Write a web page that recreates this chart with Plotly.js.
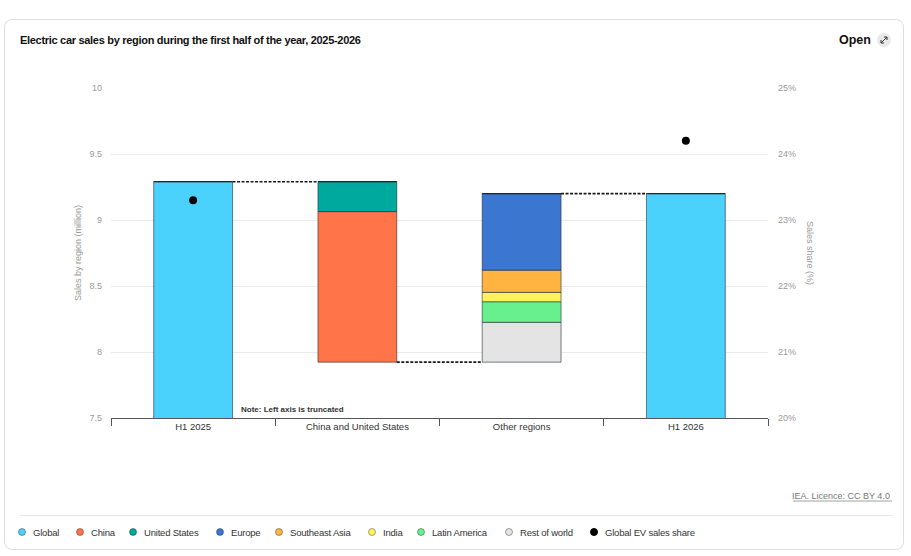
<!DOCTYPE html>
<html>
<head>
<meta charset="utf-8">
<script src="https://cdn.plot.ly/plotly-3.0.1.min.js"></script>
<style>
  html, body { margin: 0; padding: 0; background: #ffffff; }
  #card { position: absolute; left: 4px; top: 19px; width: 900px; height: 531px;
          border: 1px solid #dedede; border-radius: 8px; box-sizing: border-box; }
  #chart { position: absolute; left: 0; top: 0; width: 911px; height: 556px; }
</style>
</head>
<body>
<div id="card"></div>
<div id="chart"></div>
<script>
// ---------------- data ----------------
const categories = ["H1 2025", "China and United States", "Other regions", "H1 2026"];
const globalSales = [9.29, null, null, 9.20];          // million
const salesShare = [23.3, null, null, 24.2];           // %
const regions = ["China", "United States", "Europe", "Southeast Asia", "India", "Latin America", "Rest of world"];
const regionChange = [-1.14, -0.227, 0.58, 0.168, 0.071, 0.156, 0.302];   // million, H1 2026 vs H1 2025
const regionCategory = [1, 1, 2, 2, 2, 2, 2];          // index into categories
const decreaseOrder = ["United States", "China"];      // stacked from the top down
const increaseOrder = ["Rest of world", "Latin America", "India", "Southeast Asia", "Europe"]; // from the bottom up
const legendNames = ["Global", "China", "United States", "Europe", "Southeast Asia", "India", "Latin America", "Rest of world", "Global EV sales share"];

// ---------------- style ----------------
const colors = {
  "Global": "#4bd2fc", "China": "#ff7549", "United States": "#00a99d", "Europe": "#3b77d1",
  "Southeast Asia": "#ffb441", "India": "#fff25e", "Latin America": "#69f08e",
  "Rest of world": "#e4e4e4", "Global EV sales share": "#000000"
};
const W = 911, H = 556;
const M = {l: 111, r: 143, t: 88, b: 138};
const PW = W - M.l - M.r, PH = H - M.t - M.b;
const px = x => (x - M.l) / PW;
const py = y => (H - M.b - y) / PH;
const BAR_W = 0.48;
const FONT = "'Liberation Sans', Arial, sans-serif";
const outline = "rgba(20,30,40,0.55)";

// ---------------- build waterfall segments ----------------
const traces = [];
traces.push({
  type: "bar", x: categories, y: globalSales, base: 0, width: BAR_W,
  marker: {color: colors["Global"], line: {color: outline, width: 1}},
  showlegend: false, hoverinfo: "skip", yaxis: "y"
});
const idx = name => regions.indexOf(name);
let level = globalSales[0];
const levels = [level];
decreaseOrder.forEach(name => {
  const i = idx(name);
  const ch = regionChange[i];
  const base = level + ch;
  const yv = categories.map((c, k) => k === regionCategory[i] ? -ch : null);
  const bv = categories.map((c, k) => k === regionCategory[i] ? base : null);
  traces.push({type: "bar", x: categories, y: yv, base: bv, width: BAR_W,
    marker: {color: colors[name], line: {color: outline, width: 1}},
    name: name, showlegend: false, hoverinfo: "skip"});
  level = base;
});
levels.push(level);
increaseOrder.forEach(name => {
  const i = idx(name);
  const ch = regionChange[i];
  const yv = categories.map((c, k) => k === regionCategory[i] ? ch : null);
  const bv = categories.map((c, k) => k === regionCategory[i] ? level : null);
  traces.push({type: "bar", x: categories, y: yv, base: bv, width: BAR_W,
    marker: {color: colors[name], line: {color: outline, width: 1}},
    name: name, showlegend: false, hoverinfo: "skip"});
  level += ch;
});
levels.push(level);
traces.push({
  type: "scatter", mode: "markers", x: categories, y: salesShare, yaxis: "y2",
  marker: {color: "#000", size: 8}, showlegend: false, hoverinfo: "skip"
});

// ---------------- shapes ----------------
const shapes = [];
// connectors between bars
levels.forEach((lv, k) => {
  shapes.push({type: "line", xref: "x", yref: "y", x0: k + BAR_W / 2, x1: k + 1 - BAR_W / 2, y0: lv, y1: lv,
    line: {color: "#1a1a1a", width: 1.6, dash: "3px,1.5px"}});
});
// dark top edges where connectors meet the bar tops
const topLevels = [globalSales[0], globalSales[0], levels[2], globalSales[3]];
topLevels.forEach((lv, k) => {
  shapes.push({type: "line", xref: "x", yref: "y", x0: k - BAR_W / 2, x1: k + BAR_W / 2, y0: lv, y1: lv,
    line: {color: "#1b2733", width: 1.2}});
});
// separator above legend
shapes.push({type: "line", xref: "paper", yref: "paper", x0: px(20), x1: px(893), y0: py(515.5), y1: py(515.5),
  line: {color: "#e6e6e6", width: 1}});
// "Open" icon circle
shapes.push({type: "circle", xref: "paper", yref: "paper", x0: px(877), x1: px(891), y0: py(33), y1: py(47),
  fillcolor: "#e9e9e9", line: {width: 0}});
// arrow glyph inside icon
shapes.push({type: "path", xref: "paper", yref: "paper",
  path: `M ${px(881)} ${py(43)} L ${px(887)} ${py(37)} M ${px(884)} ${py(37)} L ${px(887)} ${py(37)} L ${px(887)} ${py(40)} M ${px(881)} ${py(40)} L ${px(881)} ${py(43)} L ${px(884)} ${py(43)}`,
  line: {color: "#333", width: 1}});
// underline for source
shapes.push({type: "line", xref: "paper", yref: "paper", x0: px(793), x1: px(892), y0: py(501), y1: py(501),
  line: {color: "#888", width: 0.8}});

// ---------------- legend (manual) ----------------
const legendMarkerX = [22, 80, 133, 220, 279, 372, 421, 509, 594];
const legendY = 532;
const annotations = [];
legendNames.forEach((name, k) => {
  const cx = legendMarkerX[k];
  shapes.push({type: "circle", xref: "paper", yref: "paper",
    x0: px(cx - 3.5), x1: px(cx + 3.5), y0: py(legendY + 3.5), y1: py(legendY - 3.5),
    fillcolor: colors[name], line: {color: name === "Global EV sales share" ? "#000" : "rgba(0,0,0,0.35)", width: 1}});
  annotations.push({xref: "paper", yref: "paper", x: px(cx + 9), y: py(legendY), xanchor: "left", yanchor: "middle",
    text: `<span style="letter-spacing:-0.2px">${name}</span>`, showarrow: false, font: {family: FONT, size: 9.5, color: "#333"}});
});

// other texts
annotations.push({xref: "paper", yref: "paper", x: px(873), y: py(40), xanchor: "right", yanchor: "middle",
  text: "<b>Open</b>", showarrow: false, font: {family: FONT, size: 12.5, color: "#111"}});
annotations.push({xref: "paper", yref: "paper", x: px(892), y: py(496), xanchor: "right", yanchor: "middle",
  text: "IEA. Licence: CC BY 4.0", showarrow: false, font: {family: FONT, size: 9, color: "#777"}});
annotations.push({xref: "x", yref: "y", x: BAR_W / 2, y: 7.5, xanchor: "left", yanchor: "bottom", xshift: 6, yshift: 2,
  text: "<b>Note: Left axis is truncated</b>", showarrow: false, font: {family: FONT, size: 8, color: "#333"}});
annotations.push({xref: "paper", yref: "paper", x: px(78), y: py(253), xanchor: "center", yanchor: "middle",
  text: "Sales by region (million)", textangle: -90, showarrow: false, font: {family: FONT, size: 9, color: "#999"}});
annotations.push({xref: "paper", yref: "paper", x: px(810), y: py(253), xanchor: "center", yanchor: "middle",
  text: "Sales share (%)", textangle: 90, showarrow: false, font: {family: FONT, size: 9, color: "#999"}});

const layout = {
  width: W, height: H,
  margin: M,
  paper_bgcolor: "rgba(0,0,0,0)", plot_bgcolor: "rgba(0,0,0,0)",
  barmode: "overlay",
  showlegend: false,
  title: {text: '<span style="letter-spacing:-0.3px"><b>Electric car sales by region during the first half of the year, 2025-2026</b></span>',
    xref: "container", yref: "container", x: 20 / W, xanchor: "left", y: 1 - 40 / H, yanchor: "middle",
    font: {family: FONT, size: 11, color: "#111"}},
  xaxis: {type: "category", range: [-0.5, 3.5], showline: true, linecolor: "#555", linewidth: 1,
    ticks: "outside", tickson: "boundaries", ticklen: 7, tickcolor: "#555", showgrid: false,
    tickfont: {family: FONT, size: 9.5, color: "#333"}, fixedrange: true},
  yaxis: {range: [7.5, 10], dtick: 0.5, tick0: 7.5, gridcolor: "#ebebeb", gridwidth: 1, zeroline: false,
    showline: false, ticks: "", ticklabelstandoff: 8, tickfont: {family: FONT, size: 9, color: "#999"}, fixedrange: true},
  yaxis2: {overlaying: "y", side: "right", range: [20, 25], dtick: 1, ticksuffix: "%", showgrid: false,
    zeroline: false, showline: false, ticks: "", ticklabelstandoff: 9,
    tickfont: {family: FONT, size: 9, color: "#999"}, fixedrange: true},
  shapes: shapes,
  annotations: annotations
};

Plotly.newPlot("chart", traces, layout, {staticPlot: true, displayModeBar: false});
</script>
</body>
</html>
